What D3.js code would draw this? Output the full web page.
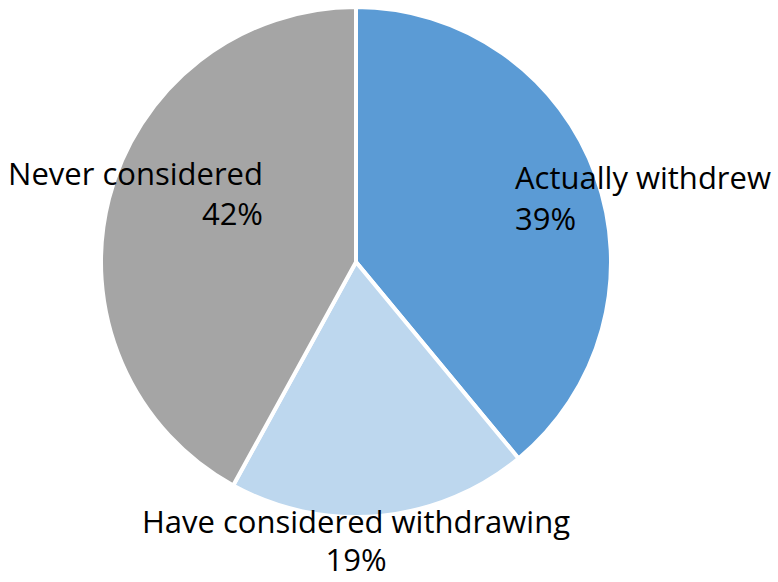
<!DOCTYPE html>
<html>
<head>
<meta charset="utf-8">
<script src="https://cdn.jsdelivr.net/npm/d3@7"></script>
<style>
  html, body { margin: 0; padding: 0; background: #fff; }
  svg text { font-family: "Open Sans", "Lato", sans-serif; fill: #000; }
</style>
</head>
<body>
<svg id="chart" width="778" height="582"></svg>
<script>
// Withdrawal status shares
const categories = ["Actually withdrew", "Have considered withdrawing", "Never considered"];
const shares = [39, 19, 42];
const percentLabels = ["39%", "19%", "42%"];
const colors = ["#5B9BD5", "#BDD7EE", "#A5A5A5"];

const svg = d3.select("#chart");
const cx = 356, cy = 262, radius = 255;

const pie = d3.pie().sort(null).value(d => d.value);
const data = categories.map((c, i) => ({ name: c, value: shares[i], pct: percentLabels[i], color: colors[i] }));
const arcs = pie(data);
const arc = d3.arc().innerRadius(0).outerRadius(radius);

const g = svg.append("g").attr("transform", `translate(${cx},${cy})`);
g.selectAll("path.slice")
  .data(arcs)
  .join("path")
  .attr("class", "slice")
  .attr("d", arc)
  .attr("fill", d => d.data.color)
  .attr("stroke", "#fff")
  .attr("stroke-width", 4)
  .attr("stroke-linejoin", "round");

// Two-line data labels: category name, then percentage
const fontSize = 31;
const labelPos = [
  { x: 515, y: 189, anchor: "start", gap: 41 },
  { x: 356, y: 533, anchor: "middle", gap: 38 },
  { x: 263, y: 185, anchor: "end", gap: 40 }
];

arcs.forEach((d, i) => {
  const p = labelPos[i];
  const t = svg.append("text")
    .attr("x", p.x)
    .attr("y", p.y)
    .attr("text-anchor", p.anchor)
    .style("font-size", fontSize + "px");
  t.append("tspan").attr("x", p.x).text(d.data.name);
  t.append("tspan").attr("x", p.x).attr("dy", p.gap).text(d.data.pct);
});
</script>
</body>
</html>
